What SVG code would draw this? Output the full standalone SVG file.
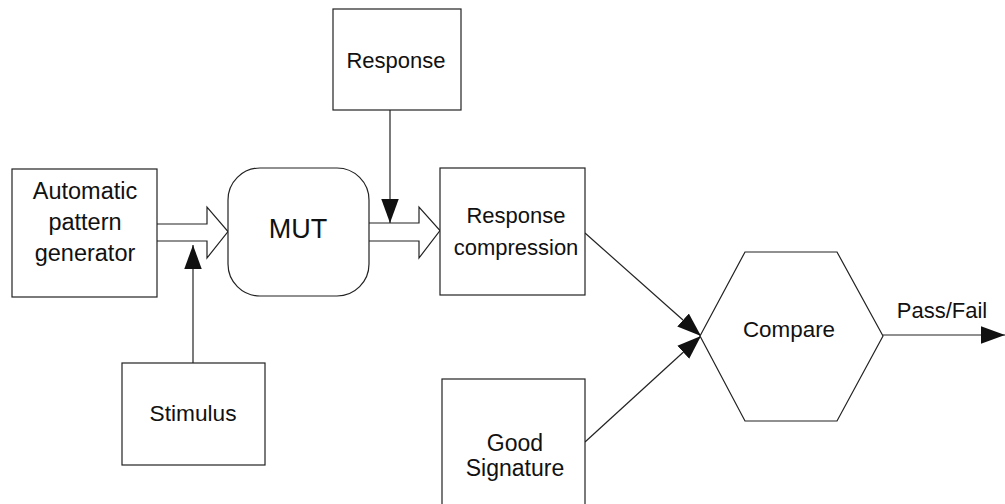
<svg xmlns="http://www.w3.org/2000/svg" width="1005" height="504" viewBox="0 0 1005 504">
<style>
.box{fill:#fff;stroke:#222;stroke-width:1.2}
.ln{fill:none;stroke:#222;stroke-width:1.2}
.hollow{fill:#fff;stroke:#222;stroke-width:1.2;stroke-linejoin:miter}
.t{font-family:"Liberation Sans",Arial,sans-serif;font-size:22px;fill:#111;text-anchor:middle}
</style>
<defs>
<marker id="ah" markerUnits="userSpaceOnUse" markerWidth="24" markerHeight="18" viewBox="0 0 22 16" refX="22" refY="8" orient="auto">
<path d="M0,0 L22,8 L0,16 Z" fill="#111"/>
</marker>
</defs>
<rect width="1005" height="504" fill="#fff"/>
<g id="connectors">
<path class="hollow" d="M157,224 L207,224 L207,207 L228,231.5 L207,258 L207,241 L157,241"/>
<path class="hollow" d="M369,223 L419,223 L419,207 L440,230.5 L419,258 L419,241 L369,241"/>
<line class="ln" x1="193" y1="363" x2="193" y2="245" marker-end="url(#ah)"/>
<line class="ln" x1="390" y1="110" x2="390" y2="223" marker-end="url(#ah)"/>
<line class="ln" x1="585" y1="233" x2="701" y2="336" marker-end="url(#ah)"/>
<line class="ln" x1="585" y1="442" x2="701" y2="336" marker-end="url(#ah)"/>
<line class="ln" x1="883" y1="335" x2="1005" y2="335" marker-end="url(#ah)"/>
<text class="t" x="942" y="318">Pass/Fail</text>
</g>
<g id="apg">
<rect class="box" x="12" y="169" width="145" height="128"/>
<text class="t" x="85" y="199" style="font-size:23.5px">Automatic</text>
<text class="t" x="85" y="230" style="font-size:23.5px">pattern</text>
<text class="t" x="85" y="261" style="font-size:23.5px">generator</text>
</g>
<g id="mut">
<rect class="box" x="228" y="168" width="141" height="128" rx="32" ry="32"/>
<text class="t" x="298" y="238" style="font-size:27px">MUT</text>
</g>
<g id="response">
<rect class="box" x="333" y="9" width="128" height="101"/>
<text class="t" x="396" y="68" style="font-size:22px">Response</text>
</g>
<g id="response-compression">
<rect class="box" x="440" y="168" width="145" height="127"/>
<text class="t" x="516" y="223" style="font-size:22px">Response</text>
<text class="t" x="516" y="255" style="font-size:22px">compression</text>
</g>
<g id="stimulus">
<rect class="box" x="122" y="363" width="143" height="102"/>
<text class="t" x="193" y="421" style="font-size:22.7px">Stimulus</text>
</g>
<g id="good-signature">
<rect class="box" x="442" y="379" width="143" height="135"/>
<text class="t" x="515" y="451" style="font-size:23px">Good</text>
<text class="t" x="515" y="476" style="font-size:23px">Signature</text>
</g>
<g id="compare">
<polygon class="box" points="700,336 745,252 837,252 883,336 837,421 745,421"/>
<text class="t" x="789" y="337" style="font-size:22.4px">Compare</text>
</g>
</svg>
